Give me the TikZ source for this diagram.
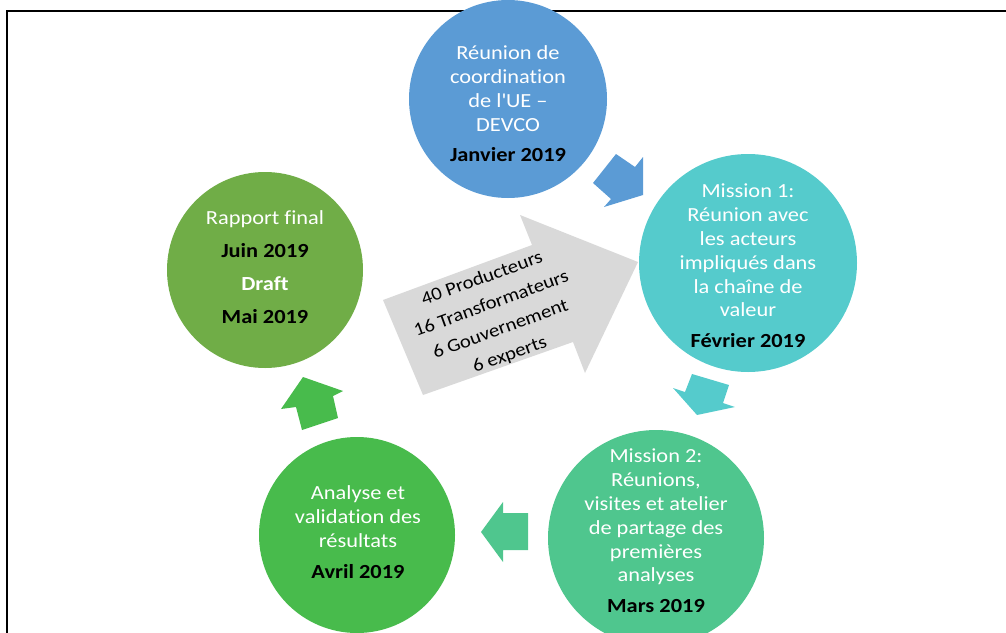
\documentclass[tikz,border=0pt]{standalone}
\usepackage{fontspec}
\setmainfont{Carlito}[FakeStretch=1.12, Ligatures=NoCommon]
\definecolor{bleu}{HTML}{5B9BD5}
\definecolor{turquoise}{HTML}{55CBCC}
\definecolor{menthe}{HTML}{4FC68E}
\definecolor{vert}{HTML}{48BB4C}
\definecolor{olive}{HTML}{70AD47}
\definecolor{gris}{HTML}{D9D9D9}
\tikzset{
  etape/.style = {circle, inner sep=0pt, minimum size=#1},
  texte/.style = {text=white, align=center, font=\fontsize{20}{23.8}\selectfont},
  fleche/.style = {draw=none, fill=#1}
}
\newcommand{\quand}[1]{\textcolor{black}{\textbf{#1}}}

\begin{document}
\begin{tikzpicture}[x=1pt,y=-1pt]
  \useasboundingbox (0,0) rectangle (1006,632);
  % frame
  \draw[line width=2pt] (7,640) -- (7,11) -- (1015,11);
  % circles
  \node[etape=198pt, fill=bleu] (reunion) at (508,99) {};
  \node[etape=218pt, fill=turquoise] (mission1) at (748,263) {};
  \node[etape=216pt, fill=menthe] (mission2) at (656,538) {};
  \node[etape=196pt, fill=vert] (analyse) at (357,535) {};
  \node[etape=196pt, fill=olive] (rapport) at (265,270) {};
  % texts
  \node[texte] (treunion) at (508,104) {Réunion de\\coordination\\de l\textquotesingle UE –\\DEVCO\\[7pt]\quand{Janvier 2019}};
  \node[texte] (tmission1) at (748,266) {Mission 1:\\Réunion avec\\les acteurs\\impliqués dans\\la chaîne de\\valeur\\[7pt]\quand{Février 2019}};
  \node[texte] (tmission2) at (656,531) {Mission 2:\\Réunions,\\visites et atelier\\de partage des\\premières\\analyses\\[7pt]\quand{Mars 2019}};
  \node[texte] (tanalyse) at (358,532) {Analyse et\\validation des\\résultats\\[7pt]\quand{Avril 2019}};
  \node[texte] (trapport) at (265,267) {Rapport final\\[9pt]\quand{Juin 2019}\\[9pt]\textbf{Draft}\\[9pt]\quand{Mai 2019}};
  % big arrow
  \fill[gris] (383,300) -- (532,245) -- (520,215) -- (638,262) -- (585,373) -- (573,342) -- (423,395) -- cycle;
  \node[rotate=20, align=center, font=\fontsize{18.5}{27}\selectfont] (acteurs) at (496,317)
    {40 Producteurs\\16 Transformateurs\\6 Gouvernement\\6 experts};
  % small arrows
  \fill[fleche=bleu] (616,154) -- (635,167) -- (643,157) -- (643,195) -- (604,207) -- (611,199) -- (593,183) -- cycle;
  \fill[fleche=turquoise] (692,374) -- (729,385) -- (723,403) -- (735,407) -- (697,415) -- (673,388) -- (685,392) -- cycle;
  \fill[fleche=menthe] (528,513) -- (503,513) -- (503,502) -- (481,532) -- (503,562) -- (503,550) -- (528,550) -- cycle;
  \fill[fleche=vert] (303,377) -- (343,391) -- (333,396) -- (338,418) -- (302,430) -- (296,407) -- (281,409) -- cycle;
\end{tikzpicture}
\end{document}
